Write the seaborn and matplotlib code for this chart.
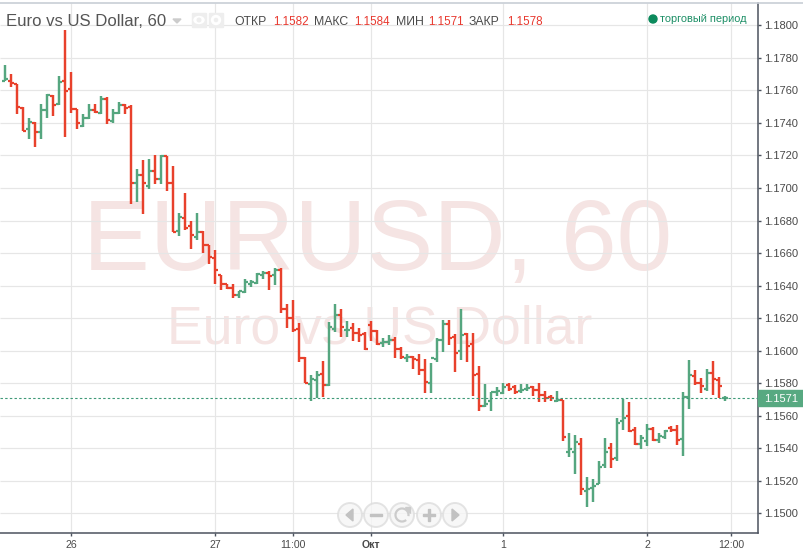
import matplotlib
matplotlib.use("Agg")
import pandas as pd
import matplotlib.pyplot as plt
import seaborn as sns
from matplotlib.patches import Circle, Rectangle, Polygon, Ellipse, Arc

# hourly bars
opens = [1.17660, 1.17660, 1.17640, 1.17490, 1.17364, 1.17400, 1.17347, 1.17480, 1.17568, 1.17517, 1.17655,
         1.17610, 1.17486, 1.17384, 1.17431, 1.17480, 1.17462, 1.17544, 1.17410, 1.17460, 1.17513, 1.17500,
         1.17030, 1.17081, 1.17015, 1.17107, 1.17056, 1.17196, 1.17030, 1.16735, 1.16817, 1.16764, 1.16698,
         1.16729, 1.16647, 1.16571, 1.16462, 1.16407, 1.16384, 1.16345, 1.16360, 1.16411, 1.16415, 1.16462,
         1.16477, 1.16462, 1.16497, 1.16257, 1.16200, 1.16134, 1.15956, 1.15792, 1.15817, 1.15859, 1.15788,
         1.16135, 1.16220, 1.16124, 1.16139, 1.16108, 1.16104, 1.16159, 1.16120, 1.16047, 1.16053, 1.16067,
         1.16012, 1.15957, 1.15961, 1.15941, 1.15884, 1.15798, 1.15951, 1.16063, 1.16165, 1.16084, 1.15996,
         1.16104, 1.16043, 1.15855, 1.15660, 1.15691, 1.15746, 1.15740, 1.15791, 1.15777, 1.15753, 1.15763,
         1.15777, 1.15761, 1.15726, 1.15716, 1.15691, 1.15695, 1.15374, 1.15378, 1.15425, 1.15137, 1.15153,
         1.15180, 1.15297, 1.15399, 1.15337, 1.15566, 1.15597, 1.15515, 1.15425, 1.15444, 1.15517, 1.15450,
         1.15470, 1.15526, 1.15515, 1.15456, 1.15712, 1.15843, 1.15798, 1.15763, 1.15863, 1.15820, 1.15706]
highs = [1.17753, 1.17702, 1.17640, 1.17500, 1.17431, 1.17405, 1.17517, 1.17579, 1.17573, 1.17691, 1.17972,
         1.17712, 1.17486, 1.17456, 1.17517, 1.17517, 1.17566, 1.17558, 1.17486, 1.17527, 1.17517, 1.17511,
         1.17114, 1.17169, 1.17179, 1.17200, 1.17200, 1.17196, 1.17132, 1.16848, 1.16970, 1.16794, 1.16848,
         1.16733, 1.16647, 1.16620, 1.16466, 1.16411, 1.16411, 1.16366, 1.16442, 1.16436, 1.16479, 1.16489,
         1.16489, 1.16510, 1.16510, 1.16284, 1.16309, 1.16171, 1.15960, 1.15852, 1.15872, 1.15935, 1.16175,
         1.16288, 1.16253, 1.16180, 1.16171, 1.16141, 1.16114, 1.16180, 1.16124, 1.16080, 1.16098, 1.16084,
         1.16022, 1.15982, 1.15965, 1.15982, 1.15951, 1.15927, 1.16078, 1.16190, 1.16190, 1.16104, 1.16253,
         1.16110, 1.16110, 1.15904, 1.15793, 1.15746, 1.15777, 1.15798, 1.15798, 1.15791, 1.15793, 1.15793,
         1.15781, 1.15798, 1.15751, 1.15730, 1.15751, 1.15699, 1.15491, 1.15481, 1.15460, 1.15221, 1.15209,
         1.15321, 1.15460, 1.15430, 1.15583, 1.15701, 1.15683, 1.15532, 1.15481, 1.15552, 1.15532, 1.15491,
         1.15511, 1.15536, 1.15542, 1.15746, 1.15941, 1.15879, 1.15832, 1.15889, 1.15935, 1.15840, 1.15720]
lows = [1.17655, 1.17620, 1.17456, 1.17353, 1.17302, 1.17251, 1.17302, 1.17431, 1.17441, 1.17507, 1.17312,
        1.17460, 1.17364, 1.17374, 1.17421, 1.17460, 1.17456, 1.17394, 1.17398, 1.17456, 1.17456, 1.16902,
        1.16913, 1.16841, 1.16995, 1.17025, 1.17025, 1.16980, 1.16729, 1.16704, 1.16743, 1.16624, 1.16682,
        1.16600, 1.16534, 1.16411, 1.16374, 1.16376, 1.16325, 1.16325, 1.16354, 1.16391, 1.16411, 1.16442,
        1.16370, 1.16401, 1.16233, 1.16139, 1.16114, 1.15930, 1.15800, 1.15690, 1.15710, 1.15712, 1.15784,
        1.16114, 1.16084, 1.16084, 1.16057, 1.16053, 1.16006, 1.16059, 1.16033, 1.16022, 1.16033, 1.15955,
        1.15951, 1.15931, 1.15890, 1.15853, 1.15741, 1.15737, 1.15931, 1.15992, 1.16033, 1.15869, 1.15941,
        1.15931, 1.15720, 1.15631, 1.15654, 1.15630, 1.15722, 1.15736, 1.15753, 1.15732, 1.15740, 1.15753,
        1.15722, 1.15685, 1.15683, 1.15691, 1.15683, 1.15446, 1.15344, 1.15241, 1.15112, 1.15041, 1.15072,
        1.15178, 1.15276, 1.15280, 1.15323, 1.15511, 1.15501, 1.15423, 1.15393, 1.15415, 1.15446, 1.15434,
        1.15454, 1.15501, 1.15419, 1.15354, 1.15642, 1.15787, 1.15740, 1.15753, 1.15726, 1.15710, 1.15691]
closes = [1.17670, 1.17644, 1.17497, 1.17353, 1.17405, 1.17343, 1.17480, 1.17573, 1.17513, 1.17650, 1.17595,
          1.17486, 1.17398, 1.17431, 1.17480, 1.17466, 1.17544, 1.17415, 1.17460, 1.17513, 1.17493, 1.17030,
          1.17081, 1.17030, 1.17107, 1.17056, 1.17196, 1.17030, 1.16729, 1.16821, 1.16755, 1.16708, 1.16729,
          1.16647, 1.16575, 1.16493, 1.16407, 1.16384, 1.16345, 1.16364, 1.16421, 1.16421, 1.16473, 1.16477,
          1.16458, 1.16497, 1.16253, 1.16200, 1.16124, 1.15956, 1.15804, 1.15825, 1.15852, 1.15790, 1.16145,
          1.16220, 1.16145, 1.16126, 1.16108, 1.16094, 1.16012, 1.16120, 1.16043, 1.16053, 1.16063, 1.16008,
          1.15961, 1.15961, 1.15951, 1.15884, 1.15808, 1.15955, 1.16063, 1.16165, 1.16078, 1.15988, 1.16094,
          1.16027, 1.15849, 1.15661, 1.15671, 1.15746, 1.15750, 1.15777, 1.15767, 1.15746, 1.15761, 1.15773,
          1.15761, 1.15726, 1.15710, 1.15706, 1.15695, 1.15470, 1.15393, 1.15440, 1.15149, 1.15149, 1.15170,
          1.15286, 1.15378, 1.15331, 1.15556, 1.15587, 1.15507, 1.15425, 1.15460, 1.15517, 1.15450, 1.15474,
          1.15507, 1.15511, 1.15450, 1.15716, 1.15849, 1.15798, 1.15781, 1.15865, 1.15828, 1.15780, 1.15710]

y_ticks = [1.15 + 0.002 * n for n in range(16)]
x_tick_pos = [11, 35, 48, 61, 83, 107, 121]
x_tick_labels = ["26", "27", "11:00", "Окт", "1", "2", "12:00"]
last_price = 1.1571

RED = "#e8412c"
GREEN = "#55a67f"
TEXT = "#4a4a4a"

sns.set_theme(style="whitegrid")
plt.rcParams["font.family"] = ["Liberation Sans", "DejaVu Sans"]
plt.rcParams["lines.solid_capstyle"] = "butt"

W, H = 804, 554
fig = plt.figure(figsize=(W / 100, H / 100), dpi=100, facecolor="white")

# plot area in pixels: x 0..758, y 3..533
ax = fig.add_axes([0, 1 - 533 / H, 758 / W, 530 / H], facecolor="none")

df = pd.DataFrame({"open": opens, "high": highs, "low": lows, "close": closes})
df["i"] = df.index
df["dir"] = ["up" if c >= o else "down" for o, c in zip(df["open"], df["close"])]
pal = {"up": GREEN, "down": RED}

# stems
stems = df.melt(id_vars=["i", "dir"], value_vars=["high", "low"], value_name="price")
sns.lineplot(data=stems, x="i", y="price", hue="dir", units="i", estimator=None, palette=pal,
             linewidth=1.75, legend=False, ax=ax, zorder=3, solid_capstyle="butt")

# open tick to the left, close tick to the right
left = pd.concat([df.assign(tx=df["i"] - 0.55, price=df["open"], key=df["i"]),
                  df.assign(tx=df["i"], price=df["open"], key=df["i"])])
right = pd.concat([df.assign(tx=df["i"], price=df["close"], key=df["i"] + 1000),
                   df.assign(tx=df["i"] + 0.55, price=df["close"], key=df["i"] + 1000)])
ticks = pd.concat([left, right])
sns.lineplot(data=ticks, x="tx", y="price", hue="dir", units="key", estimator=None, palette=pal,
             linewidth=1.6, legend=False, ax=ax, zorder=3, solid_capstyle="butt")

ax.axhline(last_price, color="#3f9a78", lw=0.8, ls=(0, (2.2, 2)), zorder=4)

ax.set_xlim(-5 / 6, 753 / 6)
ax.set_ylim(1.18 - (533 - 25.3) / 16267, 1.18 + (25.3 - 3) / 16267)
ax.set_xlabel("")
ax.set_ylabel("")
ax.set_xticks(x_tick_pos)
ax.set_xticklabels(x_tick_labels)
ax.set_yticks(y_ticks)
ax.set_yticklabels([f"{v:.4f}" for v in y_ticks])
ax.yaxis.tick_right()
ax.grid(True, color="#e6e6e6", lw=0.85)
ax.set_axisbelow(True)
ax.tick_params(axis="y", which="major", right=True, left=False, length=2.2, width=1, color="#4c525e",
               labelsize=8, labelcolor=TEXT, pad=2.4)
ax.tick_params(axis="x", which="major", bottom=True, length=2.5, width=1, color="#4c525e",
               labelsize=7.6, labelcolor=TEXT, pad=2.5)
ax.get_xticklabels()[3].set_fontweight("bold")
for name, sp in ax.spines.items():
    sp.set_visible(name in ("right", "bottom"))
    sp.set_color("#4c525e")
    sp.set_linewidth(1.1)


def px(x, y):
    return x / W, 1 - y / H


# watermark sits under everything
fig.text(*px(83, 270), "EURUSD, 60", fontsize=72, color="#f5e4e3", ha="left", va="baseline", zorder=-1)
fig.text(*px(167, 343), "Euro vs US Dollar", fontsize=38.5, color="#f5e4e3", ha="left", va="baseline", zorder=-1)

# chrome drawn in pixel coordinates on a transparent overlay
ov = fig.add_axes([0, 0, 1, 1], facecolor="none", zorder=5)
ov.set_xlim(0, W)
ov.set_ylim(H, 0)
ov.axis("off")

ov.plot([0, W], [2.5, 2.5], color="#c8ced6", lw=1.2)

# header
ov.text(6, 26, "Euro vs US Dollar, 60", fontsize=12.1, color="#555555", va="baseline")
ov.add_patch(Polygon([[173, 19], [181, 19], [177, 23]], color="#cccccc"))
ov.add_patch(Rectangle((192, 13), 14, 14, color="#eeeeee"))
ov.add_patch(Rectangle((209, 13), 14, 14, color="#eeeeee"))
ov.add_patch(Ellipse((199, 20), 10, 7, color="white"))
ov.add_patch(Circle((199, 20), 1.8, color="#eeeeee"))
ov.add_patch(Circle((216, 20), 4.5, color="white"))
ov.add_patch(Circle((216, 20), 1.6, color="#eeeeee"))

for x, s in [(234, "ОТКР"), (314, "МАКС"), (396, "МИН"), (469, "ЗАКР")]:
    ov.text(x, 25, s, fontsize=8.8, color=TEXT, va="baseline")
for x, s in [(273, "1.1582"), (354, "1.1584"), (428, "1.1571"), (507, "1.1578")]:
    ov.text(x, 25, s, fontsize=8.4, color="#e8392f", va="baseline")

ov.add_patch(Circle((653, 19), 4, color="#0b8a5c"))
ov.text(660, 22.5, "торговый период", fontsize=7.9, color="#1d8f66", va="baseline")

# last price tag
ov.add_patch(Rectangle((758, 390), 46, 16, color="#57a981"))
ov.text(764.5, 402, f"{last_price:.4f}", fontsize=8, color="white", va="baseline")

# navigation buttons
btn_x = [350, 376, 402, 429, 455]
for bx in btn_x:
    ov.add_patch(Circle((bx, 515), 12, facecolor="#f6f6f6", edgecolor="#dddddd", lw=1.4, alpha=0.8))
ov.add_patch(Polygon([[346, 515], [353, 509], [353, 521]], color="#c2c2c2"))
ov.add_patch(Rectangle((370, 514), 12, 2.4, color="#c2c2c2"))
ov.add_patch(Arc((402, 515), 13, 13, theta1=-310, theta2=10, color="#cccccc", lw=1.6))
ov.add_patch(Polygon([[405, 507], [410, 507], [410, 513]], color="#cccccc"))
ov.add_patch(Rectangle((423, 514), 12, 2.4, color="#c2c2c2"))
ov.add_patch(Rectangle((427.8, 509), 2.4, 12, color="#c2c2c2"))
ov.add_patch(Polygon([[459, 515], [452, 509], [452, 521]], color="#c2c2c2"))

fig.savefig("out.png", dpi=100)
